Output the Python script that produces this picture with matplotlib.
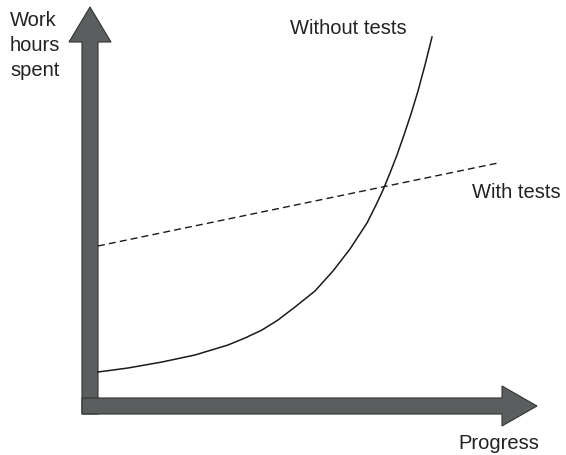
import matplotlib
matplotlib.use("Agg")
import matplotlib.pyplot as plt
from matplotlib.patches import FancyArrow

plt.rcParams["font.family"] = ["Liberation Sans", "DejaVu Sans"]

# Curve (pixel space, y grows downward)
without_x = [98, 128, 162, 195, 228, 245, 262, 278, 295, 315, 333, 350, 367, 377,
             383, 390, 397, 404, 411, 418, 425, 432]
without_y = [373, 369, 363, 356, 346, 339, 331, 321, 308, 292, 272, 250, 224, 204,
             191, 174, 156, 136, 115, 92, 66, 38]

with_x = [98, 498]
with_y = [247, 164]

fig = plt.figure(figsize=(5.66, 4.56), dpi=100)
ax = fig.add_axes([0, 0, 1, 1])
ax.set_xlim(0, 566)
ax.set_ylim(456, 0)
ax.axis("off")

gray = "#5a5e5f"
edge = "#333333"

# vertical axis arrow
ax.add_patch(FancyArrow(90, 415, 0, -407, width=16, head_width=42, head_length=35,
                        length_includes_head=True, facecolor=gray, edgecolor=edge,
                        linewidth=0.8, zorder=2))
# horizontal axis arrow
ax.add_patch(FancyArrow(82, 407, 455, 0, width=16, head_width=40, head_length=35,
                        length_includes_head=True, facecolor=gray, edgecolor=edge,
                        linewidth=0.8, zorder=3))

ax.plot(without_x, without_y, color="#1a1a1a", linewidth=1.1, zorder=4,
        solid_joinstyle="round")
ax.plot(with_x, with_y, color="#1a1a1a", linewidth=1.0, dashes=(5, 3), zorder=4)

ax.text(10, 11, "Work\nhours\nspent", fontsize=14.5, va="top", ha="left",
        linespacing=1.4, color="#222222")
ax.text(290, 29, "Without tests", fontsize=14.5, va="center", ha="left", color="#222222")
ax.text(472, 193, "With tests", fontsize=14.5, va="center", ha="left", color="#222222")
ax.text(458, 444, "Progress", fontsize=14.5, va="center", ha="left", color="#222222")

fig.savefig("out.png", dpi=100)
